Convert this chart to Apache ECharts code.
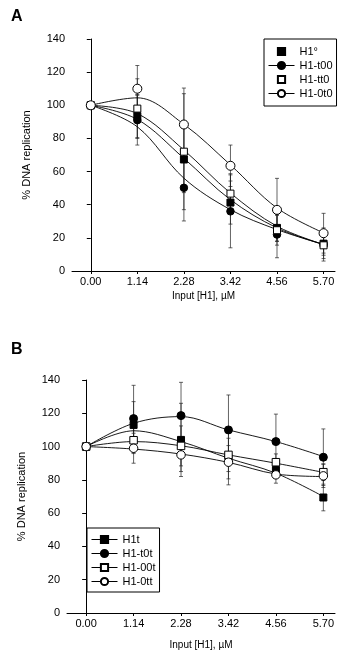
<!DOCTYPE html>
<html>
<head>
<meta charset="utf-8">
<script src="https://cdn.jsdelivr.net/npm/echarts@6.0.0/dist/echarts.min.js"></script>
<style>
  html, body { margin: 0; padding: 0; background: #fff; }
  #chart { width: 353px; height: 652px; }
</style>
</head>
<body>
<div id="chart"></div>
<script>
// input concentrations, µM
const doses = [0, 1.14, 2.28, 3.42, 4.56, 5.70];

const namesA = ['H1\u00b0', 'H1-t00', 'H1-tt0', 'H1-0t0'];
const meanA = [
    [100, 93.5, 67.3, 41.3, 26, 16.5],
    [100, 91, 50.2, 36, 22, 16],
    [100, 98, 72, 46.7, 24.6, 15.5],
    [100, 110, 88.4, 63.5, 36.9, 22.8]
];
const errA = [
    [0, 13, 20, 13, 8, 7],
    [0, 15, 20, 22, 14, 10],
    [0, 18, 35, 12, 9, 8],
    [0, 14, 22, 12.5, 19, 12]
];
const fitA = [
    [100, 91.5, 68, 43, 26, 16],
    [100, 87, 56, 37, 25, 16],
    [100, 95, 73, 47, 27, 16],
    [100, 104.5, 88.5, 64, 38, 23]
];

// panel B
const namesB = ['H1t', 'H1-t0t', 'H1-00t', 'H1-0tt'];
const meanB = [
    [100, 113, 104, 93, 86, 69.4],
    [100, 116.8, 118.6, 110, 103, 93.6],
    [100, 103.8, 100.4, 95, 90.6, 84.6],
    [100, 99, 95, 90.6, 83, 82.4]
];
const errB = [
    [0, 14, 22, 16, 5, 8],
    [0, 20, 20, 21, 16.5, 17],
    [0, 8, 12, 10, 5, 5],
    [0, 9, 10, 10, 5, 7]
];
const fitB = [
    [100, 109.5, 103, 93, 84, 70],
    [100, 114, 118, 110, 103, 94],
    [100, 103, 100.5, 95, 90, 84.5],
    [100, 98.5, 95.5, 90.5, 83.5, 82]
];

const yTicks = [0, 20, 40, 60, 80, 100, 120, 140];

// in panel A, H1° and H1-tt0 have a marker but no line in the legend
const legendLineA = [false, true, false, true];

const FONT = "'Liberation Sans', Arial, sans-serif";
const markers = [
    { symbol: 'rect', fill: '#000' },
    { symbol: 'circle', fill: '#000' },
    { symbol: 'rect', fill: '#fff' },
    { symbol: 'circle', fill: '#fff' }
];
const sizesA = [7, 7.5, 7, 9];
const sizesB = [7, 8, 7.5, 8.5];

const myChart = echarts.init(document.getElementById('chart'));

function xAxisFor(gridIndex, gap) {
    return {
        type: 'value', gridIndex: gridIndex,
        min: -0.46, max: 5.98,
        name: 'Input [H1], \u00b5M', nameLocation: 'middle', nameGap: gap,
        nameTextStyle: { color: '#000', fontSize: 10, fontFamily: FONT },
        axisLine: { lineStyle: { color: '#000', width: 1 } },
        axisTick: { customValues: doses, length: 3, lineStyle: { color: '#000' } },
        axisLabel: {
            customValues: doses, color: '#000', fontSize: 11, fontFamily: FONT, margin: 5,
            formatter: v => v.toFixed(2)
        },
        splitLine: { show: false }
    };
}

function yAxisFor(gridIndex) {
    return {
        type: 'value', gridIndex: gridIndex,
        min: yTicks[0], max: yTicks[yTicks.length - 1], interval: 20,
        name: '% DNA replication', nameLocation: 'middle', nameGap: 40,
        nameTextStyle: { color: '#000', fontSize: 11, fontFamily: FONT },
        axisLine: { show: true, lineStyle: { color: '#000', width: 1 } },
        axisTick: { show: true, length: 4, lineStyle: { color: '#000' } },
        axisLabel: { color: '#000', fontSize: 11, fontFamily: FONT, margin: 7 },
        splitLine: { show: false }
    };
}

function errorSeries(axisIndex, means, errs) {
    const data = [];
    means.forEach((m, i) => {
        doses.forEach((d, j) => {
            if (errs[i][j] > 0) data.push([d, m[j] - errs[i][j], m[j] + errs[i][j]]);
        });
    });
    return {
        type: 'custom', xAxisIndex: axisIndex, yAxisIndex: axisIndex, z: 1,
        silent: true,
        renderItem: (params, api) => {
            const top = api.coord([api.value(0), api.value(2)]);
            const bot = api.coord([api.value(0), api.value(1)]);
            const w = 2;
            const st = { stroke: '#222', lineWidth: 0.7 };
            return {
                type: 'group', children: [
                    { type: 'line', shape: { x1: top[0], y1: top[1], x2: bot[0], y2: bot[1] }, style: st },
                    { type: 'line', shape: { x1: top[0] - w, y1: top[1], x2: top[0] + w, y2: top[1] }, style: st },
                    { type: 'line', shape: { x1: bot[0] - w, y1: bot[1], x2: bot[0] + w, y2: bot[1] }, style: st }
                ]
            };
        },
        encode: { x: 0, y: [1, 2] },
        data: data
    };
}

function lineSeries(axisIndex, name, values, mk, size) {
    return {
        name: name, type: 'line', xAxisIndex: axisIndex, yAxisIndex: axisIndex,
        data: doses.map((d, j) => [d, values[j]]),
        smooth: 0.35, showSymbol: false, symbol: mk.symbol, symbolSize: size,
        lineStyle: { color: '#000', width: 0.9 },
        itemStyle: { color: mk.fill, borderColor: '#000', borderWidth: 1 },
        z: 2, silent: true
    };
}

function pointSeries(axisIndex, name, values, mk, size) {
    return {
        name: name, type: 'scatter', xAxisIndex: axisIndex, yAxisIndex: axisIndex,
        data: doses.map((d, j) => [d, values[j]]),
        symbol: mk.symbol, symbolSize: size,
        itemStyle: { color: mk.fill, borderColor: '#000', borderWidth: 1, opacity: 1 },
        z: 3, silent: true
    };
}

const series = [errorSeries(0, meanA, errA), errorSeries(1, meanB, errB)];
namesA.forEach((n, i) => {
    series.push(lineSeries(0, n, fitA[i], markers[i], sizesA[i]));
    series.push(pointSeries(0, n, meanA[i], markers[i], sizesA[i]));
});
namesB.forEach((n, i) => {
    series.push(lineSeries(1, n, fitB[i], markers[i], sizesB[i]));
    series.push(pointSeries(1, n, meanB[i], markers[i], sizesB[i]));
});

const legendBase = {
    orient: 'vertical', selectedMode: false,
    itemWidth: 26, itemHeight: 9, itemGap: 3,
    borderColor: '#000', borderWidth: 1,
    lineStyle: { width: 1 },
    textStyle: { color: '#000', fontSize: 11, lineHeight: 10, fontFamily: FONT }
};

const option = {
    backgroundColor: '#fff',
    animation: false,
    title: [
        { text: 'A', left: 6, top: 4, textStyle: { fontSize: 16, fontWeight: 'bold', color: '#000', fontFamily: FONT } },
        { text: 'B', left: 6, top: 337, textStyle: { fontSize: 16, fontWeight: 'bold', color: '#000', fontFamily: FONT } }
    ],
    grid: [
        { left: 72, top: 39, width: 263, height: 232 },
        { left: 67, top: 380, width: 268, height: 233 }
    ],
    legend: [
        Object.assign({}, legendBase, {
            left: 264, top: 39, padding: [7, 4, 7, 4],
            data: namesA.map((n, i) => legendLineA[i] ? n : { name: n, lineStyle: { color: 'rgba(0,0,0,0)' } })
        }),
        Object.assign({}, legendBase, { data: namesB, left: 87, top: 528, padding: [6, 4, 5, 4] })
    ],
    xAxis: [xAxisFor(0, 20), xAxisFor(1, 27)],
    yAxis: [yAxisFor(0), yAxisFor(1)],
    series: series
};

myChart.setOption(option);

window.addEventListener('resize', () => myChart.resize());
</script>
</body>
</html>
